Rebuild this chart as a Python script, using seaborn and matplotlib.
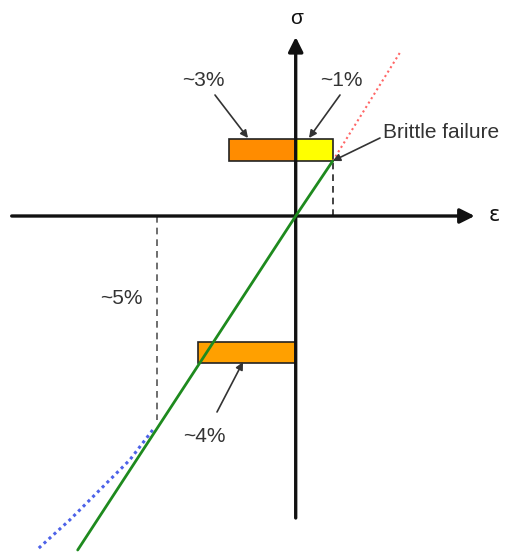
import numpy as np
import pandas as pd

import matplotlib
matplotlib.use('Agg')
import matplotlib.pyplot as plt
import seaborn as sns

sns.set_style('white')
plt.rcParams['font.family'] = ['Liberation Sans', 'DejaVu Sans']

# strain / stress in arbitrary units, origin at the axis crossing
strain_elastic = [-21.8, 0.0, 3.7]
stress_elastic = [-33.4, 0.0, 5.5]

strain_brittle = [3.7, 10.4]
stress_brittle = [5.5, 16.3]

strain_plastic = [-14.3, -16.6, -19.3, -22.6, -25.9]
stress_plastic = [-21.4, -24.4, -27.1, -30.4, -33.4]

# bands: (stress bottom, stress top, strain left, strain right)
band_comp_upper = (5.5, 7.7, -6.7, 0.0)
band_tens_upper = (5.5, 7.7, 0.0, 3.7)
band_comp_lower = (-14.7, -12.6, -9.8, 0.0)

fail_strain = 3.7
fail_stress = 5.5
yield_strain = -13.9
yield_stress = -20.4

labels = ['~3%', '~1%', 'Brittle failure', '~5%', '~4%']

fig = plt.figure(figsize=(5.06, 5.55), dpi=100)
ax = fig.add_axes([0, 0, 1, 1])
ax.set_xlim(-29.57, 21.03)
ax.set_ylim(-33.9, 21.6)
ax.axis('off')

txt_col = '#333333'

# axes with arrows
ax.annotate('', xy=(17.9, 0), xytext=(-28.4, 0),
            arrowprops=dict(arrowstyle='-|>', lw=2.4, color='#111111',
                            mutation_scale=22, shrinkA=0, shrinkB=0))
ax.annotate('', xy=(0, 17.9), xytext=(0, -30.2),
            arrowprops=dict(arrowstyle='-|>', lw=2.4, color='#111111',
                            mutation_scale=22, shrinkA=0, shrinkB=0))
ax.text(0.1, 19.8, 'σ', fontsize=15, ha='center', va='center', color='#111111')
ax.text(19.9, 0.1, 'ε', fontsize=15, ha='center', va='center', color='#111111',
        family=['DejaVu Sans'])

# bands
for (b, t, l, r), col in [(band_comp_upper, '#FF8C00'), (band_tens_upper, '#FFFF00'),
                          (band_comp_lower, '#FFA000')]:
    ax.barh(y=(b + t) / 2, width=r - l, left=l, height=t - b, color=col,
            edgecolor='#222222', linewidth=1.2, zorder=2)

# dashed guides
ax.plot([fail_strain, fail_strain], [0, fail_stress], ls=(0, (4, 3)), color='#222222', lw=1.2, zorder=1)
ax.plot([yield_strain, yield_strain], [0, yield_stress], ls=(0, (4, 3)), color='#555555', lw=1.2, zorder=1)

# curves
sns.lineplot(x=strain_brittle, y=stress_brittle, sort=False, color='#FF6666',
             lw=1.5, linestyle=(0, (1, 1.5)), ax=ax, zorder=3)
sns.lineplot(x=strain_plastic, y=stress_plastic, sort=False, color='#4D62E8',
             lw=2.2, linestyle=(0, (1, 1.2)), ax=ax, zorder=3)
sns.lineplot(x=strain_elastic, y=stress_elastic, sort=False, color='#1E8A1E',
             lw=2.0, ax=ax, zorder=4)
ax.axis('off')

# annotations
arrow_kw = dict(arrowstyle='-|>', lw=1.2, color='#333333', mutation_scale=11,
                shrinkA=0, shrinkB=0)
ax.annotate('', xy=(-4.77, 7.8), xytext=(-8.07, 12.1), arrowprops=arrow_kw, zorder=5)
ax.annotate('', xy=(1.33, 7.8), xytext=(4.43, 12.1), arrowprops=arrow_kw, zorder=5)
ax.annotate('', xy=(fail_strain, fail_stress), xytext=(8.43, 7.8), arrowprops=arrow_kw, zorder=5)
ax.annotate('', xy=(-5.27, -14.6), xytext=(-7.87, -19.6), arrowprops=arrow_kw, zorder=5)

ax.text(-9.27, 13.6, labels[0], fontsize=15, ha='center', va='center', color=txt_col)
ax.text(4.6, 13.6, labels[1], fontsize=15, ha='center', va='center', color=txt_col)
ax.text(8.7, 8.4, labels[2], fontsize=15, ha='left', va='center', color=txt_col)
ax.text(-17.4, -8.2, labels[3], fontsize=15, ha='center', va='center', color=txt_col)
ax.text(-9.1, -22.1, labels[4], fontsize=15, ha='center', va='center', color=txt_col)

fig.savefig('out.png', dpi=100)
